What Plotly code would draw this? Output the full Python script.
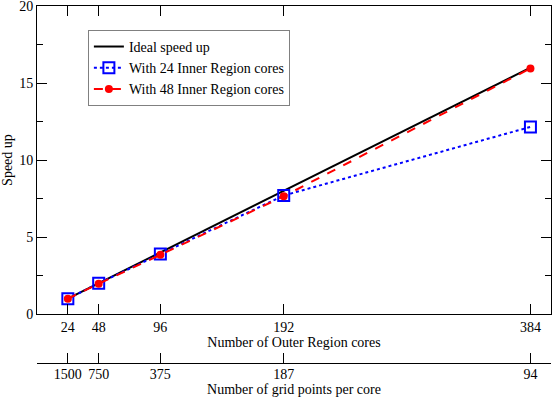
import plotly.graph_objects as go

outer_cores = [24, 48, 96, 192, 384]
grid_points_labels = ["1500", "750", "375", "187", "94"]
ideal = [1, 2, 4, 8, 16]
inner24 = [1.0, 2.0, 3.9, 7.7, 12.15]
inner48 = [1.0, 1.97, 3.85, 7.65, 15.95]

FONT = "Liberation Serif"

fig = go.Figure()
fig.add_trace(go.Scatter(x=outer_cores, y=ideal, mode="lines", name="Ideal speed up",
                         line=dict(color="black", width=2)))
fig.add_trace(go.Scatter(x=outer_cores, y=inner24, mode="lines+markers",
                         name="With 24 Inner Region cores",
                         line=dict(color="#0000ff", width=2, dash="dot"),
                         marker=dict(symbol="square-open", size=11, color="#0000ff",
                                     line=dict(width=2, color="#0000ff"))))
fig.add_trace(go.Scatter(x=outer_cores, y=inner48, mode="lines+markers",
                         name="With 48 Inner Region cores",
                         line=dict(color="#ff0000", width=2, dash="dash"),
                         marker=dict(symbol="circle", size=8, color="#ff0000")))
# invisible trace to activate second x axis
fig.add_trace(go.Scatter(x=outer_cores, y=[None]*5, xaxis="x2", yaxis="y",
                         showlegend=False, hoverinfo="skip", mode="lines"))

fig.update_layout(
    width=552, height=397,
    margin=dict(l=37, r=1, t=6, b=34),
    paper_bgcolor="white", plot_bgcolor="white",
    font=dict(family=FONT, size=14, color="black"),
    showlegend=True,
    legend=dict(x=0.099, y=0.933, xanchor="left", yanchor="top",
                bordercolor="#808080", borderwidth=1, bgcolor="white",
                font=dict(family=FONT, size=14), tracegroupgap=0),
    xaxis=dict(range=[0, 400], domain=[0, 1], anchor="y",
               tickvals=outer_cores, ticktext=[str(v) for v in outer_cores],
               ticks="inside", ticklen=10, tickcolor="black", tickwidth=1,
               showline=True, linecolor="black", linewidth=1, mirror="ticks",
               showgrid=False, zeroline=False, automargin=False,
               ticklabeloverflow="allow",
               title=dict(text="Number of Outer Region cores", font=dict(size=14), standoff=0)),
    xaxis2=dict(range=[0, 400], overlaying="x", anchor="free", position=0, side="bottom",
                tickvals=outer_cores, ticktext=grid_points_labels,
                ticks="inside", ticklen=10, tickcolor="black", tickwidth=1,
                showline=True, linecolor="black", linewidth=1,
                showgrid=False, zeroline=False, automargin=False,
                ticklabeloverflow="allow", ticklabelstandoff=-2,
                title=dict(text="Number of grid points per core", font=dict(size=14), standoff=0)),
    yaxis=dict(range=[0, 20], domain=[0.137, 1], dtick=5,
               ticks="inside", ticklen=10, tickcolor="black", tickwidth=1,
               minor=dict(dtick=2.5, ticks="inside", ticklen=6, tickcolor="black", showgrid=False),
               showline=True, linecolor="black", linewidth=1, mirror="ticks",
               showgrid=False, zeroline=False, automargin=False,
               ticklabeloverflow="allow",
               title=dict(text="Speed up", font=dict(size=14), standoff=6)),
)

fig.write_html("out.html", config={"displayModeBar": False},
               post_script="document.body.style.margin='0';")
